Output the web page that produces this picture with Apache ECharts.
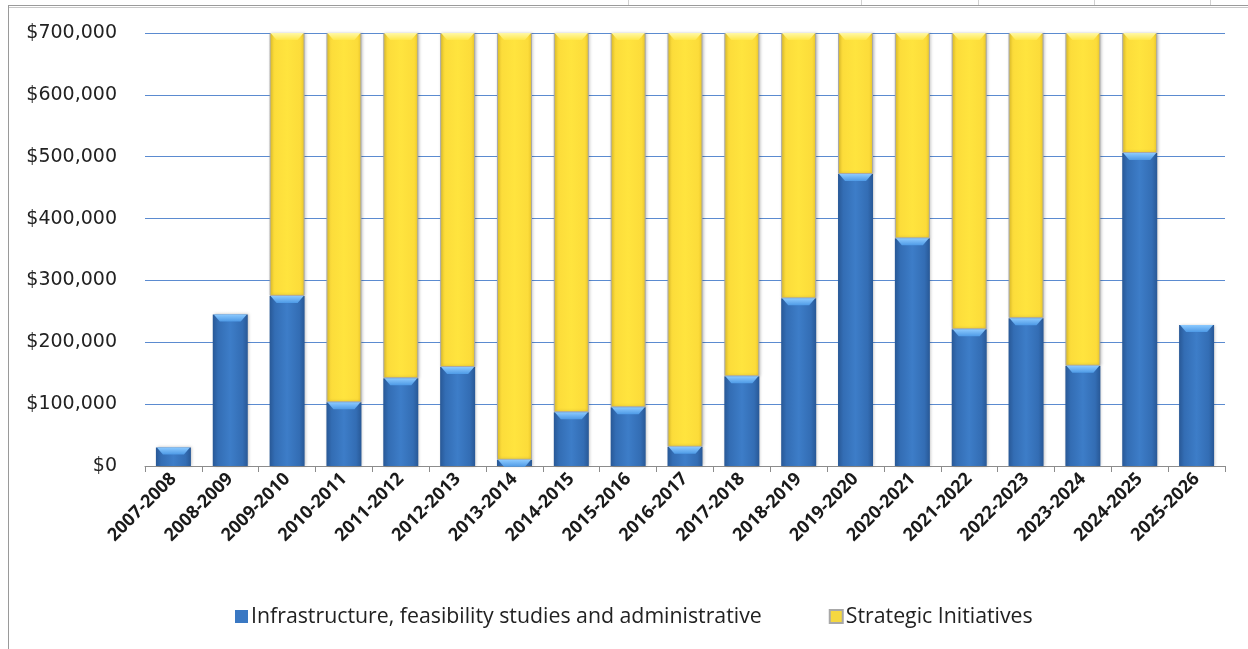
<!DOCTYPE html>
<html>
<head>
<meta charset="utf-8">
<script src="https://cdn.jsdelivr.net/npm/echarts@6/dist/echarts.min.js"></script>
<style>html,body{margin:0;padding:0;background:#fff;}#c{width:1248px;height:649px;}</style>
</head>
<body>
<div id="c"></div>
<script>
const categories = ['2007-2008','2008-2009','2009-2010','2010-2011','2011-2012','2012-2013','2013-2014','2014-2015','2015-2016','2016-2017','2017-2018','2018-2019','2019-2020','2020-2021','2021-2022','2022-2023','2023-2024','2024-2025','2025-2026'];
const infrastructure = [30000,245000,275000,103000,142000,160000,10000,87000,95000,31000,145000,271000,472000,368000,221000,239000,162000,506000,228000];
const strategic = [null,null,425000,597000,558000,540000,690000,613000,605000,669000,555000,429000,228000,332000,479000,461000,538000,194000,null];
const yTicks = [0,100000,200000,300000,400000,500000,600000,700000];
const seriesNames = ['Infrastructure, feasibility studies and administrative','Strategic Initiatives'];

const FONT = '"Open Sans", "Liberation Sans", sans-serif';
const BW = 35;
const blueGrad = new echarts.graphic.LinearGradient(0,0,1,0,[
  {offset:0,color:'#285896'},{offset:0.15,color:'#336db4'},{offset:0.5,color:'#3d7dc8'},{offset:0.85,color:'#336db4'},{offset:1,color:'#285896'}]);
const yellowGrad = new echarts.graphic.LinearGradient(0,0,1,0,[
  {offset:0,color:'#efcb2c'},{offset:0.12,color:'#fcdc3a'},{offset:0.5,color:'#ffe43e'},{offset:0.88,color:'#fcdc3a'},{offset:1,color:'#efcb2c'}]);

const bevelData = categories.map((c,i)=>[i, infrastructure[i], strategic[i]==null?null:infrastructure[i]+strategic[i]]);

function bevel(params, api){
  const i = api.value(0);
  const b = api.value(1);
  const t = api.value(2);
  const hw = BW/2;
  const children = [];
  const pb = api.coord([i, b]);
  children.push({type:'polygon', shape:{points:[[pb[0]-hw+1,pb[1]],[pb[0]+hw-1,pb[1]],[pb[0]+hw-7,pb[1]+7],[pb[0]-hw+7,pb[1]+7]]},
    style:{fill:new echarts.graphic.LinearGradient(0,0,0,1,[{offset:0,color:'#8ccaff'},{offset:1,color:'#4e9ae6'}])}});
  if (t != null && !isNaN(t)) {
    const pt = api.coord([i, t]);
    children.push({type:'polygon', shape:{points:[[pt[0]-hw+1,pt[1]],[pt[0]+hw-1,pt[1]],[pt[0]+hw-7,pt[1]+7],[pt[0]-hw+7,pt[1]+7]]},
      style:{fill:new echarts.graphic.LinearGradient(0,0,0,1,[{offset:0,color:'#fff8a8'},{offset:1,color:'#ffe84a'}])}});
  }
  return {type:'group', children};
}

const chart = echarts.init(document.getElementById('c'), null, {renderer:'canvas'});
chart.setOption({
  backgroundColor:'#fff',
  animation:false,
  grid:{left:145, right:23, top:33, bottom:183, containLabel:false},
  legend:{
    data:[{name:seriesNames[0], itemStyle:{color:'#3a78c3'}},{name:seriesNames[1], itemStyle:{color:'#f5d840'}}],
    left:235, top:606, padding:0, itemWidth:13, itemHeight:13, itemGap:67, icon:'rect',
    textStyle:{fontFamily:FONT, fontSize:21.3, color:'#222', padding:[0,0,0,-2]}
  },
  xAxis:{
    type:'category', data:categories,
    axisLine:{lineStyle:{color:'#8c8c8c', width:1}},
    axisTick:{show:true, alignWithLabel:false, length:6, lineStyle:{color:'#8c8c8c'}},
    axisLabel:{interval:0, rotate:45, margin:10, fontFamily:FONT, fontSize:18, fontWeight:'bold', color:'#1a1a1a'}
  },
  yAxis:{
    type:'value', min:0, max:700000, interval:100000,
    axisLine:{show:false}, axisTick:{show:false},
    splitLine:{lineStyle:{color:'#5b8bd0', width:1.2}},
    axisLabel:{margin:28, fontFamily:'"DejaVu Sans", sans-serif', fontSize:19, color:'#222',
      formatter:v=> yTicks.includes(v) ? '$' + v.toLocaleString('en-US') : ''}
  },
  series:[
    {name:seriesNames[0], type:'bar', stack:'t', barWidth:BW, data:infrastructure,
     itemStyle:{color:blueGrad, shadowColor:'rgba(0,0,0,0.25)', shadowBlur:3, shadowOffsetX:1}},
    {name:seriesNames[1], type:'bar', stack:'t', barWidth:BW, data:strategic,
     itemStyle:{color:yellowGrad, borderColor:'#a8a8a8', borderWidth:1, shadowColor:'rgba(0,0,0,0.25)', shadowBlur:3, shadowOffsetX:1}},
    {type:'custom', renderItem:bevel, data:bevelData, z:5, silent:true, encode:{x:0,y:1}}
  ],
  graphic:[
    {type:'line', shape:{x1:8,y1:5.5,x2:1248,y2:5.5}, style:{stroke:'#9a9a9a', lineWidth:1}},
    {type:'line', shape:{x1:8,y1:7.5,x2:1248,y2:7.5}, style:{stroke:'#c8c8c8', lineWidth:1}},
    {type:'line', shape:{x1:8.5,y1:5,x2:8.5,y2:649}, style:{stroke:'#9a9a9a', lineWidth:1}},
    {type:'line', shape:{x1:628.5,y1:0,x2:628.5,y2:5}, style:{stroke:'#d0d0d0', lineWidth:1}},
    {type:'line', shape:{x1:861.5,y1:0,x2:861.5,y2:5}, style:{stroke:'#d0d0d0', lineWidth:1}},
    {type:'line', shape:{x1:978.5,y1:0,x2:978.5,y2:5}, style:{stroke:'#d0d0d0', lineWidth:1}},
    {type:'line', shape:{x1:1094.5,y1:0,x2:1094.5,y2:5}, style:{stroke:'#d0d0d0', lineWidth:1}},
    {type:'line', shape:{x1:1210.5,y1:0,x2:1210.5,y2:5}, style:{stroke:'#d0d0d0', lineWidth:1}}
  ]
});
</script>
</body>
</html>
